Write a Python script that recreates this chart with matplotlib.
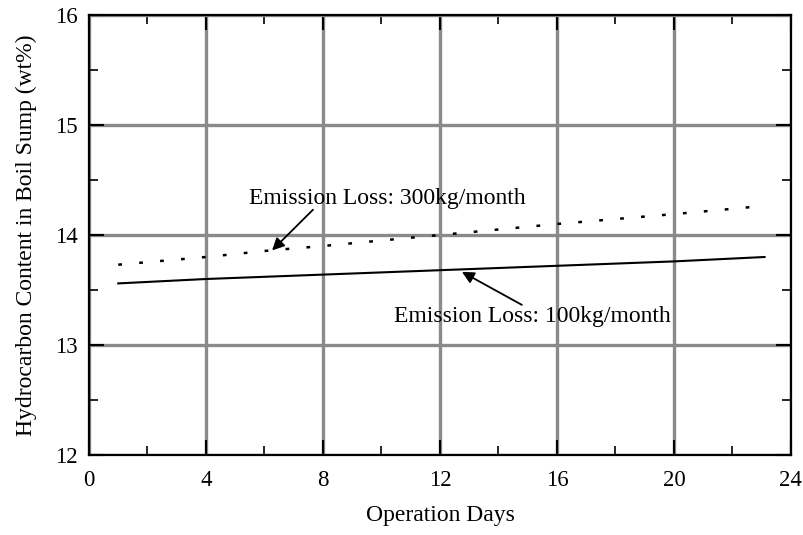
import matplotlib.pyplot as plt
from matplotlib.ticker import MultipleLocator

plt.rcParams["font.family"] = ["Liberation Serif", "DejaVu Serif"]

# data
days_100 = [1, 4, 8, 12, 16, 20, 23.1]
hc_100 = [13.56, 13.60, 13.64, 13.68, 13.72, 13.76, 13.80]

days_300 = [1, 4, 6.2, 8, 12, 16, 20, 22.9]
hc_300 = [13.73, 13.80, 13.86, 13.90, 14.00, 14.10, 14.19, 14.26]

fig = plt.figure(figsize=(8.04, 5.35), dpi=100)
ax = fig.add_axes([0.1107, 0.1495, 0.873, 0.8225])

ax.plot(days_100, hc_100, color="black", lw=1.5)
ax.plot(days_300, hc_300, color="black", lw=1.8, linestyle=(0, (1.5, 6.9)))

ax.set_xlim(0, 24)
ax.set_ylim(12, 16)
ax.xaxis.set_major_locator(MultipleLocator(4))
ax.xaxis.set_minor_locator(MultipleLocator(2))
ax.yaxis.set_major_locator(MultipleLocator(1))
ax.yaxis.set_minor_locator(MultipleLocator(0.5))
ax.tick_params(which="both", direction="in", top=True, right=True,
               labelsize=16.5)
ax.tick_params(axis="x", pad=11)
ax.tick_params(axis="y", pad=8)
ax.tick_params(which="major", length=11, width=1.5)
ax.tick_params(which="minor", length=6.5, width=1.2)
ax.grid(True, which="major", color="#8a8a8a", lw=2.4)
ax.set_axisbelow(True)
for s in ax.spines.values():
    s.set_linewidth(1.6)

ax.set_xlabel("Operation Days", fontsize=17, labelpad=10)
ax.set_ylabel("Hydrocarbon Content in Boil Sump (wt%)", fontsize=17, labelpad=13)

# labels and their arrows
ax.text(10.2, 14.335, "Emission Loss: 300kg/month", fontsize=17,
        ha="center", va="center")
ax.annotate("", xy=(6.26, 13.86), xytext=(7.66, 14.23),
            arrowprops=dict(arrowstyle="-|>", color="black", lw=1.3,
                            mutation_scale=18, shrinkA=0, shrinkB=0))
ax.text(15.15, 13.255, "Emission Loss: 100kg/month", fontsize=17,
        ha="center", va="center")
ax.annotate("", xy=(12.75, 13.665), xytext=(14.8, 13.365),
            arrowprops=dict(arrowstyle="-|>", color="black", lw=1.3,
                            mutation_scale=18, shrinkA=0, shrinkB=0))

fig.savefig("out.png", dpi=100)
